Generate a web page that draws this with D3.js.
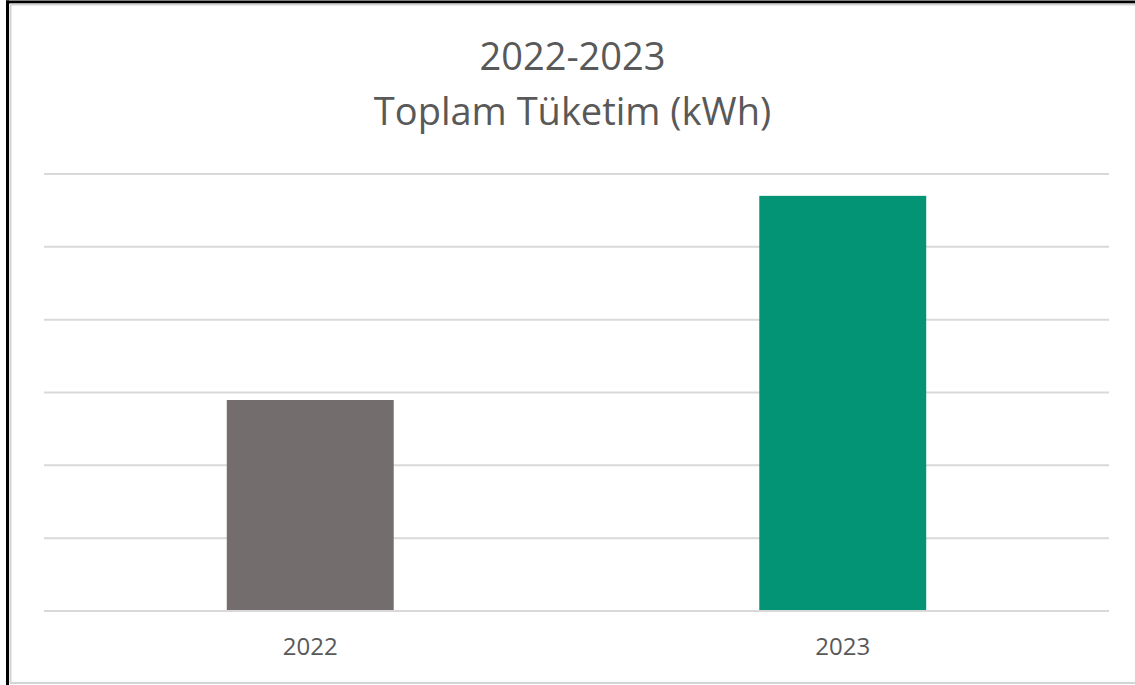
<!DOCTYPE html>
<html>
<head>
<meta charset="utf-8">
<script src="https://cdn.jsdelivr.net/npm/d3@7"></script>
<style>
  body { margin: 0; background: #fff; }
  svg { display: block; }
</style>
</head>
<body>
<script>
// data (no value axis shown, so units are estimated)
let years = ["2022", "2023"];
let consumption = [289700, 570000];
let barColors = ["#736e6d", "#039475"];
let gridTicks = [0, 100000, 200000, 300000, 400000, 500000, 600000];
let titleLines = ["2022-2023", "Toplam Tüketim (kWh)"];

let W = 1135, H = 685;
let plot = {left: 44, right: 1109, top: 174, bottom: 611};
let font = "'Open Sans', Lato, sans-serif";

let svg = d3.select("body").append("svg")
  .attr("width", W)
  .attr("height", H);

// frame around the chart
svg.append("rect").attr("x", 0).attr("y", 0).attr("width", W).attr("height", H).attr("fill", "#fff");
svg.append("line").attr("x1", 6).attr("x2", W).attr("y1", 2).attr("y2", 2)
  .attr("stroke", "#000").attr("stroke-width", 3);
svg.append("line").attr("x1", 10).attr("x2", W).attr("y1", 4.5).attr("y2", 4.5)
  .attr("stroke", "#d4d4d4").attr("stroke-width", 2);
svg.append("line").attr("x1", 7.5).attr("x2", 7.5).attr("y1", 0.5).attr("y2", H)
  .attr("stroke", "#000").attr("stroke-width", 3);
svg.append("line").attr("x1", 10.5).attr("x2", 10.5).attr("y1", 4).attr("y2", 683)
  .attr("stroke", "#d4d4d4").attr("stroke-width", 2);
svg.append("line").attr("x1", 10).attr("x2", W).attr("y1", 683).attr("y2", 683)
  .attr("stroke", "#d4d4d4").attr("stroke-width", 2);

// scales
let x = d3.scaleBand()
  .domain(years)
  .range([plot.left, plot.right])
  .paddingInner(0.6865)
  .paddingOuter(0.6865 / 2);

let y = d3.scaleLinear()
  .domain([0, 600000])
  .range([plot.bottom, plot.top]);

// gridlines
svg.append("g")
  .selectAll("line")
  .data(gridTicks)
  .join("line")
    .attr("x1", plot.left)
    .attr("x2", plot.right)
    .attr("y1", d => y(d))
    .attr("y2", d => y(d))
    .attr("stroke", "#d9d9d9")
    .attr("stroke-width", 2);

// bars
svg.append("g")
  .selectAll("rect")
  .data(years)
  .join("rect")
    .attr("x", d => x(d))
    .attr("width", x.bandwidth())
    .attr("y", (d, i) => y(consumption[i]))
    .attr("height", (d, i) => y(0) - y(consumption[i]) - 1)
    .attr("fill", (d, i) => barColors[i]);

// category axis
let xAxis = svg.append("g")
  .attr("transform", "translate(0," + plot.bottom + ")")
  .call(d3.axisBottom(x).tickSize(0).tickPadding(27));
xAxis.select(".domain").remove();
xAxis.selectAll("text")
  .attr("fill", "#595959")
  .style("font-family", font)
  .style("font-size", "24px");

// title
svg.append("g")
  .selectAll("text")
  .data(titleLines)
  .join("text")
    .attr("x", (plot.left + plot.right) / 2 - 4)
    .attr("y", (d, i) => 70 + i * 55)
    .attr("text-anchor", "middle")
    .attr("fill", "#595959")
    .style("font-family", font)
    .style("font-size", "38px")
    .text(d => d);
</script>
</body>
</html>
